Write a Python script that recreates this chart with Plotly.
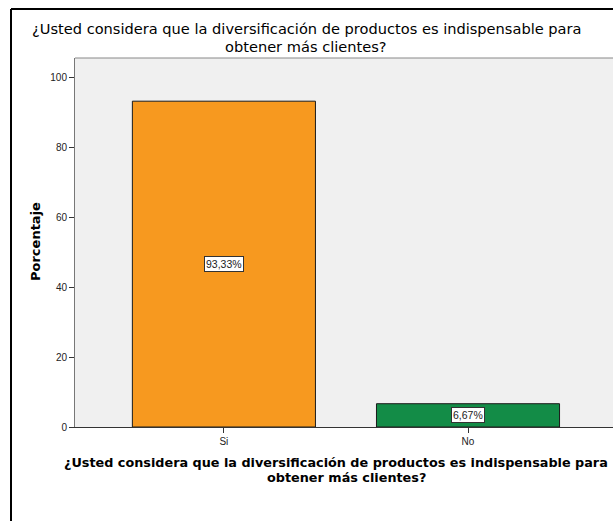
import plotly.graph_objects as go

categories = ["Si", "No"]
values = [93.33, 6.67]
labels = ["93,33%", "6,67%"]
colors = ["#F7991F", "#138C47"]
y_ticks = [0, 20, 40, 60, 80, 100]
title_lines = ["¿Usted considera que la diversificación de productos es indispensable para",
               "obtener más clientes?"]

W, H = 613, 521
L, R, T, B = 75, 0, 58, 94
PW = W - L - R
PH = H - T - B
FONT = "Liberation Sans, Arial"
WIDE = "DejaVu Sans"

def px_x(px):
    return (px - L) / PW

def px_y(py):
    return (H - B - py) / PH

fig = go.Figure()
fig.add_trace(go.Bar(
    x=[0, 1], y=values, width=0.75,
    marker=dict(color=colors, line=dict(color="#1a1a1a", width=1)),
    hoverinfo="skip",
))

for i, (v, lab) in enumerate(zip(values, labels)):
    fig.add_annotation(
        x=i, y=v / 2, xref="x", yref="y", text=lab, showarrow=False,
        font=dict(family=FONT, size=10.5, color="#222222"),
        bgcolor="white", bordercolor="#333333", borderwidth=1, borderpad=1,
    )

for k, (line, yc) in enumerate(zip(title_lines, [29, 46])):
    fig.add_annotation(
        x=px_x(306), y=px_y(yc), xref="paper", yref="paper", xanchor="center", yanchor="middle",
        text=line, showarrow=False,
        font=dict(family=WIDE, size=14.6, color="black"),
    )
for k, (line, yc) in enumerate(zip(title_lines, [462, 477])):
    fig.add_annotation(
        x=px_x(336 if k == 0 else 346), y=px_y(yc), xref="paper", yref="paper", xanchor="center", yanchor="middle",
        text="<b>" + line + "</b>", showarrow=False,
        font=dict(family=WIDE, size=12.8, color="black"),
    )
fig.add_annotation(
    x=px_x(35), y=px_y(242), xref="paper", yref="paper", xanchor="center", yanchor="middle",
    text="<b>Porcentaje</b>", textangle=-90, showarrow=False,
    font=dict(family=WIDE, size=13, color="black"),
)

# outer frame
fig.add_shape(type="line", xref="paper", yref="paper", x0=px_x(11), x1=px_x(620), y0=px_y(9), y1=px_y(9),
              line=dict(color="black", width=2))
fig.add_shape(type="line", xref="paper", yref="paper", x0=px_x(11), x1=px_x(11), y0=px_y(9), y1=px_y(530),
              line=dict(color="black", width=2))
# top plot border
fig.add_shape(type="line", xref="paper", yref="paper", x0=0, x1=1.05, y0=1, y1=1,
              line=dict(color="#888888", width=1))

fig.update_layout(
    width=W, height=H,
    margin=dict(l=L, r=R, t=T, b=B),
    paper_bgcolor="white", plot_bgcolor="#F0F0F0",
    showlegend=False,
    bargap=0.25,
    xaxis=dict(
        range=[-0.61, 1.594], tickmode="array", tickvals=[0, 1], ticktext=categories,
        showgrid=False, zeroline=False, showline=True, linecolor="#333333", linewidth=1,
        ticks="outside", ticklen=5, tickcolor="#333333",
        tickfont=dict(family=FONT, size=10, color="#222222"),
        fixedrange=True,
    ),
    yaxis=dict(
        range=[0, 105.7], tickmode="array", tickvals=y_ticks,
        showgrid=False, zeroline=False, showline=True, linecolor="#777777", linewidth=1,
        ticks="outside", ticklen=5, tickcolor="#333333",
        tickfont=dict(family=FONT, size=10, color="#222222"),
        fixedrange=True,
    ),
)

fig.write_html("out.html")
